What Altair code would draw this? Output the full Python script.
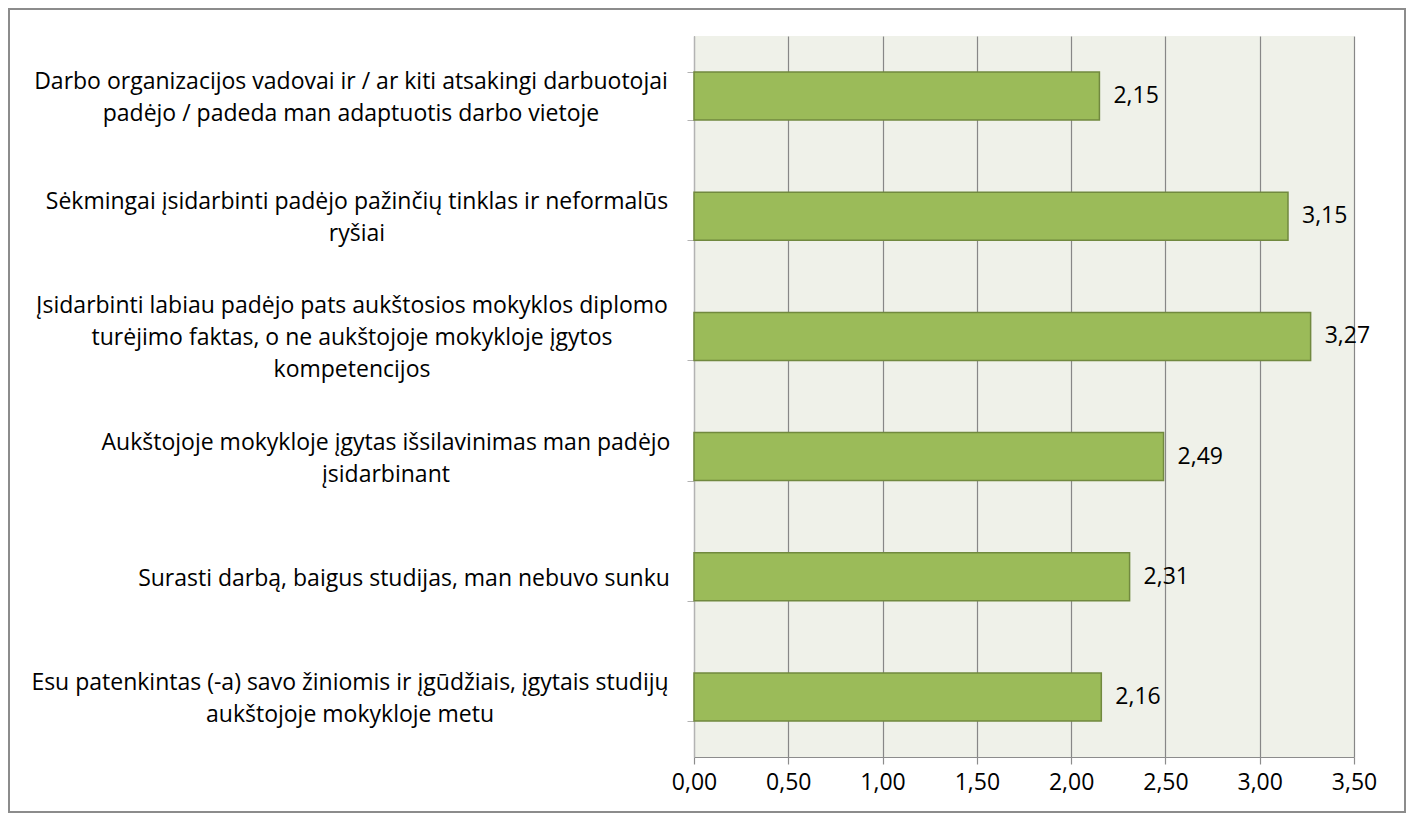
import altair as alt
import pandas as pd

categories = [
    "Darbo organizacijos vadovai ir / ar kiti atsakingi darbuotojai|padėjo / padeda man adaptuotis darbo vietoje",
    "Sėkmingai įsidarbinti padėjo pažinčių tinklas ir neformalūs|ryšiai",
    "Įsidarbinti labiau padėjo pats aukštosios mokyklos diplomo|turėjimo faktas, o ne aukštojoje mokykloje įgytos|kompetencijos",
    "Aukštojoje mokykloje įgytas išsilavinimas man padėjo|įsidarbinant",
    "Surasti darbą, baigus studijas, man nebuvo sunku",
    "Esu patenkintas (-a) savo žiniomis ir įgūdžiais, įgytais studijų|aukštojoje mokykloje metu",
]
values = [2.15, 3.15, 3.27, 2.49, 2.31, 2.16]
x_ticks = [0, 0.5, 1.0, 1.5, 2.0, 2.5, 3.0, 3.5]

# style: half-width of each label block (lines centred, block right-aligned)
label_half = [319, 313, 318, 284, 266, 320]

df = pd.DataFrame({"cat": categories, "val": values, "idx": list(range(len(categories)))})

FONT = "Open Sans"
FS = 23
LH = 32

x_enc = alt.X(
    "val:Q",
    scale=alt.Scale(domain=[0, 3.5], nice=False, zero=True),
    axis=alt.Axis(
        values=x_ticks,
        labelExpr="replace(format(datum.value, '.2f'), '.', ',')",
        labelFlush=False,
        title=None,
        grid=True,
        gridColor="#878787",
        gridWidth=1.2,
        domainColor="#8c8c8c",
        domainWidth=1.2,
        tickColor="#8c8c8c",
        tickSize=7,
        tickWidth=1.2,
        labelFont=FONT,
        labelFontSize=FS,
        labelColor="#000000",
        labelPadding=7,
    ),
)
y_enc = alt.Y(
    "cat:N",
    sort=None,
    scale=alt.Scale(paddingInner=0.6, paddingOuter=0.3),
    axis=alt.Axis(
        title=None,
        labels=False,
        tickBand="extent",
        tickColor="#b3b3b3",
        tickSize=7,
        domainColor="#b3b3b3",
        domainWidth=1.2,
    ),
)

bars = alt.Chart(df).mark_bar(
    color="#9BBB59", stroke="#71893F", strokeWidth=1.5
).encode(x=x_enc, y=y_enc)

values_text = alt.Chart(df).mark_text(
    align="left", baseline="middle", dx=14, font=FONT, fontSize=FS, color="#000000"
).encode(
    x=alt.X("val:Q"),
    y=alt.Y("cat:N", sort=None),
    text=alt.Text("label:N"),
).transform_calculate(label="replace(format(datum.val, '.2f'), '.', ',')")

half_js = "[" + ",".join(str(h) for h in label_half) + "]"
cat_text = alt.Chart(df).mark_text(
    align="center",
    baseline="middle",
    font=FONT,
    fontSize=FS,
    lineHeight=LH,
    color="#000000",
    dx=alt.expr(f"-24 - {half_js}[datum.idx]"),
    dy=alt.expr(f"2 - (length(split(datum.cat, '|')) - 1) * {LH / 2}"),
).encode(
    x=alt.value(0),
    y=alt.Y("cat:N", sort=None),
    text=alt.Text("lines:N"),
).transform_calculate(lines="split(datum.cat, '|')")

border = alt.Chart(alt.Data(values=[{"b": 1}])).mark_rect(
    fill=None, stroke="#8c8c8c", strokeWidth=2, clip=False
).encode(
    x=alt.value(-685), x2=alt.value(711), y=alt.value(-27), y2=alt.value(776)
)

chart = (
    alt.layer(bars, values_text, cat_text, border)
    .properties(
        width=660,
        height=721,
        autosize=alt.AutoSizeParams(type="none"),
        padding={"left": 686, "top": 28, "right": 52, "bottom": 56},
        background="#ffffff",
    )
    .configure_view(fill="#EFF1E9", stroke=None)
)

chart.save("out.html", embed_options={"renderer": "svg", "actions": False})
